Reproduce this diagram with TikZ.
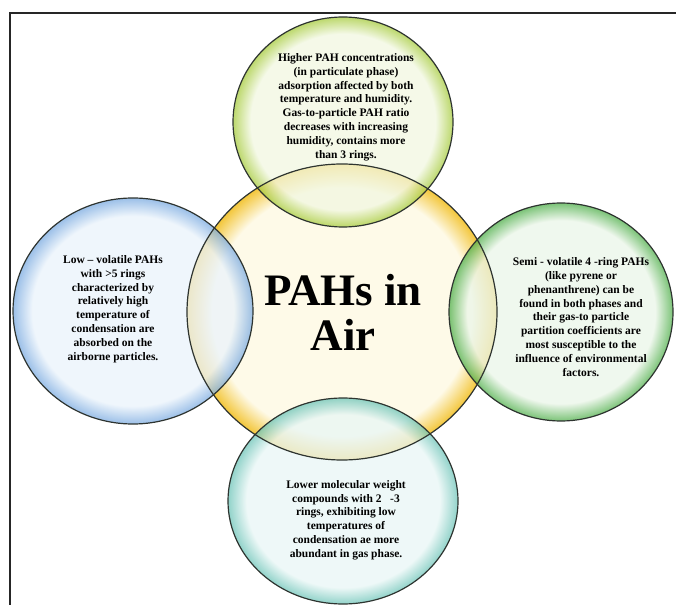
\documentclass[tikz,border=0pt]{standalone}
\usepackage{fontspec}
\setmainfont{Liberation Serif}

% colours of the five bubbles: pale core and glowing rim
\definecolor{hubpale}{HTML}{FEFAE8}
\definecolor{hubring}{HTML}{F3C63A}
\definecolor{toppale}{HTML}{F1F7E0}
\definecolor{topring}{HTML}{A6CB3C}
\definecolor{leftpale}{HTML}{EAF3FB}
\definecolor{leftring}{HTML}{7AAAE0}
\definecolor{rightpale}{HTML}{EAF5E8}
\definecolor{rightring}{HTML}{4FAF4A}
\definecolor{botpale}{HTML}{E8F6F5}
\definecolor{botring}{HTML}{6DC4B8}
\definecolor{rimgray}{HTML}{2E3430}

% radial fills: flat core, colour builds up towards the rim (25bp = rim)
\pgfdeclareradialshading{hubglow}{\pgfpointorigin}{color(0bp)=(hubpale); color(21bp)=(hubpale); color(25bp)=(hubring); color(50bp)=(hubring)}
\pgfdeclareradialshading{topglow}{\pgfpointorigin}{color(0bp)=(toppale); color(21bp)=(toppale); color(25bp)=(topring); color(50bp)=(topring)}
\pgfdeclareradialshading{leftglow}{\pgfpointorigin}{color(0bp)=(leftpale); color(21bp)=(leftpale); color(25bp)=(leftring); color(50bp)=(leftring)}
\pgfdeclareradialshading{rightglow}{\pgfpointorigin}{color(0bp)=(rightpale); color(21bp)=(rightpale); color(25bp)=(rightring); color(50bp)=(rightring)}
\pgfdeclareradialshading{botglow}{\pgfpointorigin}{color(0bp)=(botpale); color(21bp)=(botpale); color(25bp)=(botring); color(50bp)=(botring)}

\tikzset{
  rim/.style={draw=rimgray, line width=1.2pt},
  bubble/.style={opacity=0.75},
  note/.style={align=center, inner sep=0pt, text=black,
    font=\fontsize{11.5}{13.8}\selectfont\bfseries},
  headline/.style={align=center, inner sep=0pt, text=black,
    font=\fontsize{45}{45}\selectfont\bfseries},
  frameline/.style={draw=black!85, line width=2.2pt}
}

\begin{document}
\begin{tikzpicture}[x=1pt,y=1pt]
\useasboundingbox (0,0) rectangle (676,605);

% bubble centres
\coordinate (hub)   at (342,293);
\coordinate (upper) at (343,483);
\coordinate (west)  at (133,294);
\coordinate (east)  at (561,293);
\coordinate (lower) at (343,104);

% frame along the top and left edges
\coordinate (frameTR) at (676,592);
\coordinate (frameTL) at (10,592);
\coordinate (frameBL) at (10,0);
\draw[frameline, line join=miter] (frameTR) -- (frameTL) -- (frameBL);

% fills
\shade[shading=hubglow] (hub) ellipse [x radius=155, y radius=148];
\shade[shading=topglow,   bubble] (upper) ellipse [x radius=110, y radius=105];
\shade[shading=leftglow,  bubble] (west)  ellipse [x radius=120, y radius=113];
\shade[shading=rightglow, bubble] (east)  ellipse [x radius=112, y radius=109];
\shade[shading=botglow,   bubble] (lower) ellipse [x radius=115, y radius=103];

% outlines on top of every fill
\draw[rim] (hub)   ellipse [x radius=155, y radius=148];
\draw[rim] (upper) ellipse [x radius=110, y radius=105];
\draw[rim] (west)  ellipse [x radius=120, y radius=113];
\draw[rim] (east)  ellipse [x radius=112, y radius=109];
\draw[rim] (lower) ellipse [x radius=115, y radius=103];

% texts
\node[headline] (title) at (343,293) {PAHs in\\Air};

\node[note] (particulate) at (346,498) {Higher PAH concentrations\\
(in particulate phase)\\
adsorption affected by both\\
temperature and humidity.\\
Gas-to-particle PAH ratio\\
decreases with increasing\\
humidity, contains more\\
than 3 rings.};

\node[note] (lowvol) at (113,296) {Low – volatile PAHs\\
with >5 rings\\
characterized by\\
relatively high\\
temperature of\\
condensation are\\
absorbed on the\\
airborne particles.};

\node[note] (semivol) at (581,288) {Semi - volatile 4 -ring PAHs\\
(like pyrene or\\
phenanthrene) can be\\
found in both phases and\\
their gas-to particle\\
partition coefficients are\\
most susceptible to the\\
influence of environmental\\
factors.};

\node[note] (lightpah) at (346,85) {Lower molecular weight\\
compounds with 2\ \ \ -3\\
rings, exhibiting low\\
temperatures of\\
condensation ae more\\
abundant in gas phase.};
\end{tikzpicture}
\end{document}
